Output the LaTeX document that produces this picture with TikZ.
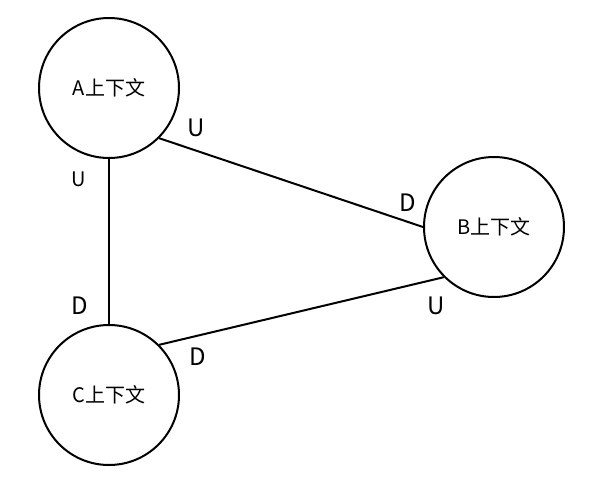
\documentclass[tikz,border=0pt]{standalone}
\usepackage{fontspec}
\setmainfont{Noto Sans CJK SC}
\begin{document}
\begin{tikzpicture}[x=1pt,y=-1pt,
  ctx/.style={circle,draw,line width=2pt,minimum size=140pt,inner sep=0pt,font=\fontsize{20}{24}\selectfont},
  lbl/.style={inner sep=0pt,font=\fontsize{24}{28}\selectfont},
  lblsm/.style={inner sep=0pt,font=\fontsize{20}{24}\selectfont},
  link/.style={line width=2pt}]
\useasboundingbox (0,0) rectangle (592,485);
\node[ctx] (A) at (109,88) {A上下文};
\node[ctx] (B) at (494,227) {B上下文};
\node[ctx] (C) at (109,395) {C上下文};
\draw[link] (A.-45) -- (B.west);
\draw[link] (C.45) -- (B.-135);
\draw[link] (A.south) -- (C.north);
\node[lbl] (u1) at (196.5,127.5) {U};
\node[lbl] (d1) at (408,203) {D};
\node[lblsm] (u2) at (78.5,179.5) {U};
\node[lbl] (d2) at (80,306) {D};
\node[lbl] (u3) at (436.5,306) {U};
\node[lbl] (d3) at (198,356.5) {D};
\end{tikzpicture}
\end{document}
